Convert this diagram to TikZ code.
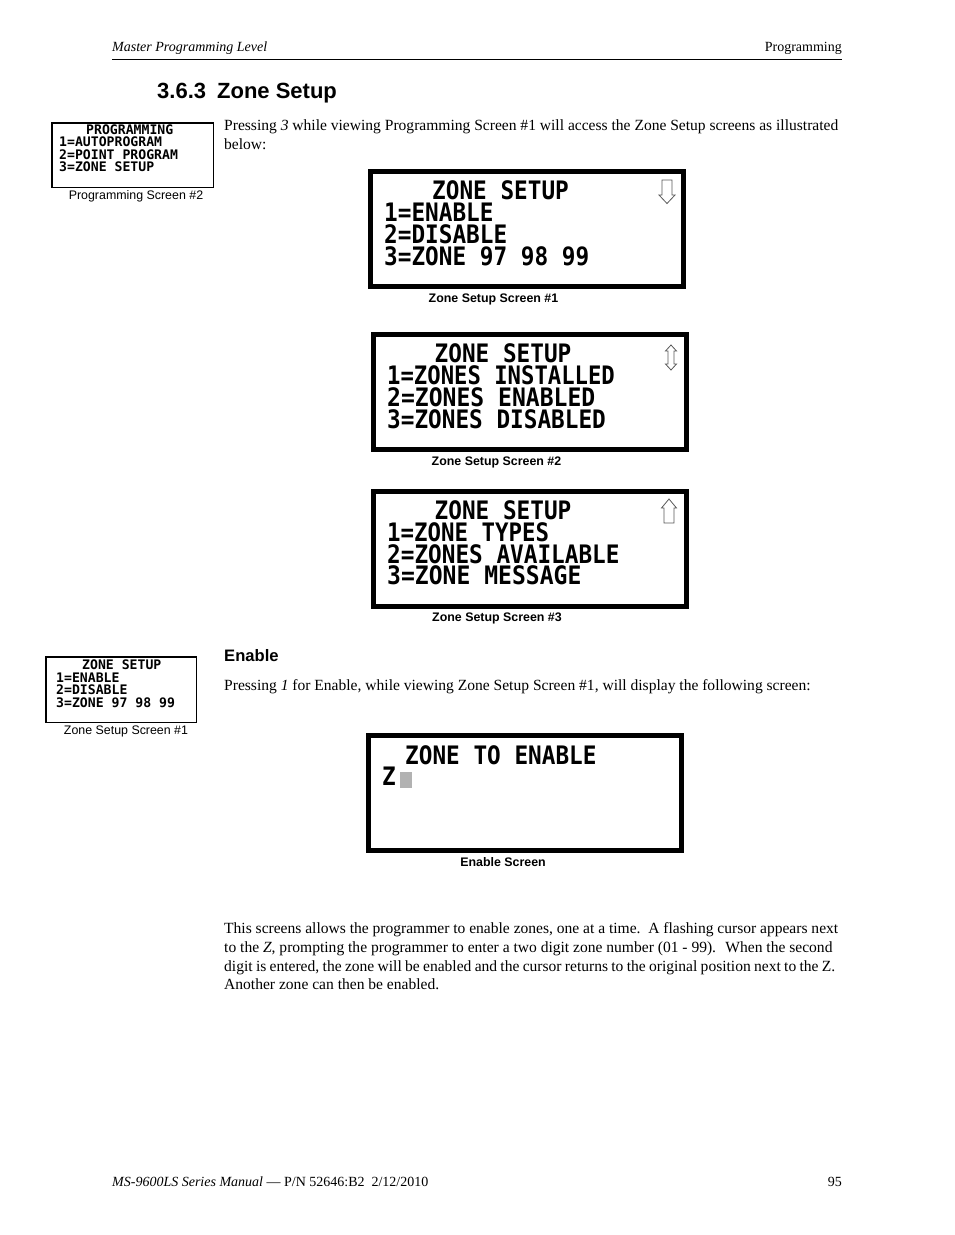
\documentclass[tikz,border=0pt]{standalone}
\usepackage{fontspec}
\setmainfont{Liberation Serif}
\setsansfont{Liberation Sans}
\newfontfamily\lcdfont{DejaVu Sans Mono}[BoldFont={DejaVu Sans Mono Bold}]
\usetikzlibrary{positioning}
\tikzset{
    tnode/.style = {align=left, inner sep=0pt, anchor=base west},
    body/.style = {tnode, anchor=north west, font=\fontsize{15.55}{18.7}\selectfont},
    head/.style = {tnode, font=\fontsize{14}{16}\selectfont},
    title/.style = {tnode, font=\sffamily\bfseries\fontsize{22}{26}\selectfont},
    subtitle/.style = {tnode, font=\sffamily\bfseries\fontsize{16.6}{20}\selectfont},
    screen/.style = {draw=black, line width=5pt, fill=white, minimum width=313pt, minimum height=115pt, inner sep=0pt},
    mini/.style = {draw=black, line width=1.5pt, fill=white, inner sep=0pt},
    lcd/.style = {tnode, yscale=1.12, transform shape, font=\lcdfont\bfseries\fontsize{22.7}{24}\selectfont},
    lcdsmall/.style = {tnode, font=\lcdfont\bfseries\fontsize{13.15}{15}\selectfont},
    caption/.style = {inner sep=0pt, font=\sffamily\bfseries\fontsize{12.4}{14}\selectfont},
    minicap/.style = {inner sep=0pt, font=\sffamily\fontsize{12.4}{14}\selectfont},
    updown/.style = {draw=black!65, line width=0.8pt, line join=miter}
}
\begin{document}
\begin{tikzpicture}[x=1pt,y=-1pt]
\useasboundingbox (0,0) rectangle (954,1235);

% page header
\node [head] (running) at (112,51) {\itshape Master Programming Level};
\node [head, anchor=base east] (chapter) at (842,51) {Programming};
\coordinate (ruleleft) at (112,59.5);
\coordinate (ruleright) at (842,59.5);
\draw [line width=0.8pt] (ruleleft) -- (ruleright);

\node [title] (section) at (157,98) {3.6.3\hspace{0.5em}Zone Setup};
\node [body] (intro) at (224,119.5) {Pressing \textit{3} while viewing Programming Screen \#1 will access the Zone Setup screens as illustrated\\below:};

% small screen, programming
\node [mini, minimum width=161.5pt, minimum height=64.5pt] (progscreen) at (132.5,155) {};
\node [lcdsmall] (progA) at (86,134) {PROGRAMMING};
\node [lcdsmall] (progB) at (59,146) {1=AUTOPROGRAM};
\node [lcdsmall] (progC) at (59,159) {2=POINT PROGRAM};
\node [lcdsmall] (progD) at (59,171) {3=ZONE SETUP};
\node [minicap, below=2.5pt of progscreen.south, xshift=3.5pt] (progcap) {Programming Screen \#2};

% zone setup screen 1
\node [screen] (zoneone) at (527,229) {};
\node [lcd] (oneA) at (432,199) {ZONE SETUP};
\node [lcd] (oneB) at (384,221) {1=ENABLE};
\node [lcd] (oneC) at (384,243) {2=DISABLE};
\node [lcd] (oneD) at (384,265) {3=ZONE 97 98 99};
\draw [updown] (662,180) -- (672,180) -- (672,195) -- (675,195) -- (667,203.5) -- (659,195) -- (662,195) -- cycle;
\node [caption, below=4.5pt of zoneone.south, xshift=-33.5pt] (onecap) {Zone Setup Screen \#1};

% zone setup screen 2
\node [screen] (zonetwo) at (530,392) {};
\node [lcd] (twoA) at (434.5,362) {ZONE SETUP};
\node [lcd, xscale=0.98] (twoB) at (387,384) {1=ZONES INSTALLED};
\node [lcd, xscale=1.015] (twoC) at (387,406) {2=ZONES ENABLED};
\node [lcd] (twoD) at (387,428) {3=ZONES DISABLED};
\draw [updown] (671,345) -- (676.5,351) -- (674,351) -- (674,364) -- (676.5,364) -- (671,370) -- (665.5,364) -- (668,364) -- (668,351) -- (665.5,351) -- cycle;
\node [caption, below=4.5pt of zonetwo.south, xshift=-33.5pt] (twocap) {Zone Setup Screen \#2};

% zone setup screen 3
\node [screen] (zonethree) at (530,548.5) {};
\node [lcd] (threeA) at (434.5,519) {ZONE SETUP};
\node [lcd, xscale=0.987] (threeB) at (387,541) {1=ZONE TYPES};
\node [lcd] (threeC) at (387,563) {2=ZONES AVAILABLE};
\node [lcd, xscale=1.015] (threeD) at (387,584) {3=ZONE MESSAGE};
\draw [updown] (669,499) -- (676.5,508) -- (674,508) -- (674,523) -- (664,523) -- (664,508) -- (661.5,508) -- cycle;
\node [caption, below=4.5pt of zonethree.south, xshift=-33pt] (threecap) {Zone Setup Screen \#3};

% enable
\node [subtitle] (enable) at (224,661) {Enable};
\node [body] (enabletext) at (224,679.5) {Pressing \textit{1} for Enable, while viewing Zone Setup Screen \#1, will display the following screen:};

% small screen, zone setup
\node [mini, minimum width=150.5pt, minimum height=65.5pt] (zonemini) at (121,689.5) {};
\node [lcdsmall] (miniA) at (82,669) {ZONE SETUP};
\node [lcdsmall] (miniB) at (56,682) {1=ENABLE};
\node [lcdsmall] (miniC) at (56,694) {2=DISABLE};
\node [lcdsmall] (miniD) at (56,707) {3=ZONE 97 98 99};
\node [minicap, below=2.5pt of zonemini.south, xshift=5pt] (minicap1) {Zone Setup Screen \#1};

% enable screen
\node [screen] (enablescreen) at (525,793) {};
\node [lcd] (enableA) at (405,764) {ZONE TO ENABLE};
\node [lcd] (enableB) at (382,785) {Z};
\fill [black!30] (400,772) rectangle (412,788);
\node [caption, below=4.5pt of enablescreen.south, xshift=-22pt] (enablecap) {Enable Screen};

\node [body] (closing) at (224,922.5) {\hbox to 614pt{This screens allows the programmer to enable zones, one at a time.\hspace{0.5em}A flashing cursor appears next}\\to the \textit{Z}, prompting the programmer to enter a two digit zone number (01 - 99).\hspace{0.6em}When the second\\\hbox to 611pt{digit is entered, the zone will be enabled and the cursor returns to the original position next to the Z.}\\Another zone can then be enabled.};

% page footer
\node [head] (manual) at (112,1186) {\itshape MS-9600LS Series Manual \textup{--- P/N 52646:B2\hspace{0.5em}2/12/2010}};
\node [head, anchor=base east] (pagenum) at (842,1186) {95};
\end{tikzpicture}
\end{document}
